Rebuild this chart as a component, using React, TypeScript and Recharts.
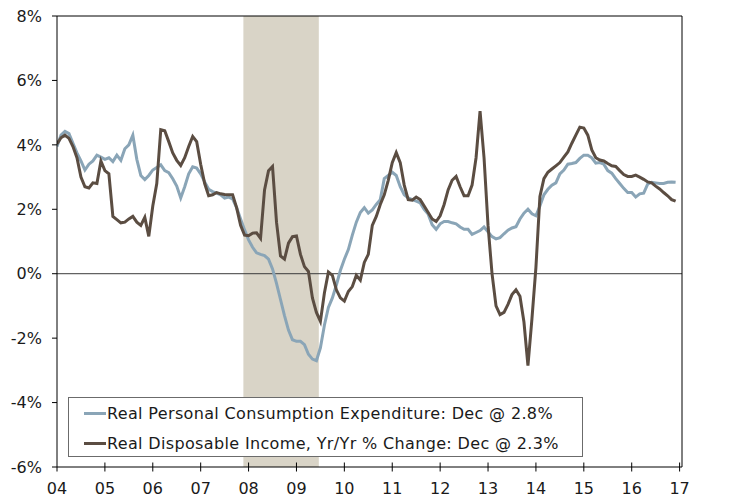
import { Legend, Line, LineChart, ReferenceArea, ReferenceLine, XAxis, YAxis } from "recharts";

// monthly yr/yr % change, Jan 2004 .. Dec 2016
const pce = [
  3.95, 4.3, 4.42, 4.35, 4.05, 3.75, 3.5, 3.22, 3.4, 3.5, 3.68, 3.62,
  3.55, 3.6, 3.48, 3.68, 3.52, 3.88, 4.0, 4.3, 3.55, 3.05, 2.92, 3.05,
  3.22, 3.3, 3.38, 3.2, 3.14, 2.95, 2.72, 2.35, 2.7, 3.1, 3.32, 3.28,
  3.1, 2.85, 2.62, 2.55, 2.5, 2.45, 2.35, 2.38, 2.32, 2.05, 1.7, 1.36,
  1.05, 0.82, 0.65, 0.6, 0.56, 0.45, 0.15, -0.3, -0.8, -1.3, -1.75, -2.05,
  -2.1, -2.1, -2.2, -2.5, -2.65, -2.7, -2.3, -1.6, -1.05, -0.75, -0.35, 0.1,
  0.45, 0.75, 1.2, 1.6, 1.9, 2.05, 1.88, 1.98, 2.15, 2.3, 2.95, 3.05,
  3.15, 3.05, 2.7, 2.45, 2.35, 2.3, 2.25, 2.2, 2.0, 1.85, 1.52, 1.38,
  1.55, 1.62, 1.62, 1.58, 1.55, 1.45, 1.38, 1.38, 1.22, 1.28, 1.34, 1.45,
  1.3, 1.15, 1.08, 1.12, 1.24, 1.35, 1.42, 1.46, 1.7, 1.88, 2.0, 1.86,
  1.8, 2.1, 2.45, 2.62, 2.75, 2.82, 3.1, 3.22, 3.4, 3.42, 3.45, 3.58,
  3.68, 3.68, 3.6, 3.43, 3.45, 3.4, 3.2, 3.12, 2.95, 2.8, 2.65, 2.52,
  2.52, 2.38, 2.48, 2.5, 2.78, 2.84, 2.82, 2.8, 2.8, 2.84, 2.85, 2.84,
];

const dpi = [
  4.03, 4.22, 4.3, 4.2, 3.95, 3.6, 3.0, 2.7, 2.66, 2.82, 2.8, 3.5,
  3.2, 3.1, 1.78, 1.68, 1.58, 1.6, 1.7, 1.78, 1.6, 1.5, 1.75, 1.16,
  2.1, 2.8, 4.47, 4.44, 4.1, 3.75, 3.52, 3.36, 3.6, 3.95, 4.26, 4.1,
  3.4, 2.8, 2.42, 2.45, 2.52, 2.48, 2.46, 2.45, 2.45, 2.05, 1.5, 1.2,
  1.18, 1.26, 1.27, 1.1, 2.6, 3.2, 3.33, 1.6, 0.55, 0.45, 0.95, 1.15,
  1.17, 0.6, 0.22, 0.07, -0.75, -1.2, -1.48, -0.6, 0.05, -0.05, -0.5, -0.75,
  -0.85, -0.55, -0.4, -0.05, -0.2, 0.35, 0.6, 1.5, 1.78, 2.15, 2.45, 2.9,
  3.45, 3.76, 3.45, 2.75, 2.3, 2.28, 2.38, 2.3, 2.1, 1.9, 1.7, 1.62,
  1.8, 2.15, 2.6, 2.9, 3.02, 2.7, 2.42, 2.42, 2.75, 3.6, 5.05, 3.6,
  1.5, 0.0, -1.0, -1.27, -1.2, -0.95, -0.65, -0.5, -0.7, -1.5, -2.85, -1.4,
  0.2, 2.4, 2.95, 3.15, 3.25, 3.35, 3.45, 3.62, 3.78, 4.05, 4.3, 4.55,
  4.52, 4.3, 3.84, 3.6, 3.53, 3.5, 3.42, 3.35, 3.33, 3.2, 3.08, 3.02,
  3.02, 3.06, 3.0, 2.93, 2.85, 2.82, 2.72, 2.63, 2.52, 2.42, 2.3, 2.25,
];

const yearLabels = ["04", "05", "06", "07", "08", "09", "10", "11", "12", "13", "14", "15", "16", "17"];
const yTicks = [-6, -4, -2, 0, 2, 4, 6, 8];
// recession, in months from Jan 2004
const recessionStart = 46.7;
const recessionEnd = 65.6;

const seriesNames = {
  pce: "Real Personal Consumption Expenditure: Dec @ 2.8%",
  dpi: "Real Disposable Income, Yr/Yr % Change: Dec @ 2.3%",
};

const data = pce.map((v, i) => ({ t: i, pce: v, dpi: dpi[i] }));
const xTicks = yearLabels.map((_, i) => i * 12);

const FONT = "'DejaVu Sans', Verdana, sans-serif";
const BLUE = "#8aa5b7";
const BROWN = "#5b4d42";
const TXT = "#1a1a1a";

const X_TICK_SIZE = 6;
const X_TICK_MARGIN = 4;
const R_TICK_SIZE = 5;
const R_TICK_MARGIN = 11;

function XTick({ x, y, payload }: any) {
  const axisY = y - X_TICK_SIZE - X_TICK_MARGIN;
  const first = payload.value === 0;
  return (
    <g>
      <line x1={x} x2={x} y1={first ? axisY : axisY - 4.5} y2={axisY + 4.5} stroke="#000" />
      <text x={x} y={axisY + 27} textAnchor="middle" fontSize={16} fontFamily={FONT} fill={TXT}>
        {yearLabels[payload.value / 12]}
      </text>
    </g>
  );
}

function RightTick({ x, y, payload }: any) {
  const axisX = x - R_TICK_SIZE - R_TICK_MARGIN;
  return (
    <g>
      <line x1={axisX - 5} x2={axisX + 5} y1={y} y2={y} stroke="#000" />
      <text x={x} y={y} dy="0.36em" textAnchor="start" fontSize={16} fontFamily={FONT} fill={TXT}>
        {`${payload.value}%`}
      </text>
    </g>
  );
}

function LegendBox() {
  const row = (color: string, label: string) => (
    <div style={{ display: "flex", alignItems: "center", height: 30 }}>
      <div style={{ width: 22, height: 3, background: color, marginRight: 1 }} />
      <span style={{ fontSize: 16, letterSpacing: 0.35, color: TXT, whiteSpace: "nowrap" }}>{label}</span>
    </div>
  );
  return (
    <div
      style={{
        width: 515,
        height: 60,
        boxSizing: "border-box",
        border: "1px solid #6b6b6b",
        background: "#fff",
        padding: "0 0 0 15px",
        fontFamily: FONT,
      }}
    >
      {row(BLUE, seriesNames.pce)}
      {row(BROWN, seriesNames.dpi)}
    </div>
  );
}

export default function App() {
  return (
    <div style={{ position: "absolute", left: 0, top: 0, width: 732, height: 498, background: "#fff" }}>
      <LineChart width={732} height={498} data={data} margin={{ top: 16, right: 0, bottom: 0, left: 0 }}>
        <XAxis
          dataKey="t"
          type="number"
          domain={[0, 156.6]}
          ticks={xTicks}
          allowDataOverflow
          height={31}
          tickSize={X_TICK_SIZE}
          tickMargin={X_TICK_MARGIN}
          tickLine={false}
          tick={<XTick />}
          axisLine={{ stroke: "#000" }}
          yAxisId="left"
        />
        <YAxis
          yAxisId="left"
          domain={[-6, 8]}
          ticks={yTicks}
          width={57}
          tickSize={5}
          tickMargin={10}
          tickFormatter={(v) => `${v}%`}
          tick={{ fontSize: 16, fontFamily: FONT, fill: TXT }}
          tickLine={{ stroke: "#000" }}
          axisLine={{ stroke: "#000" }}
        />
        <YAxis
          yAxisId="right"
          orientation="right"
          domain={[-6, 8]}
          ticks={yTicks}
          width={50}
          tickSize={R_TICK_SIZE}
          tickMargin={R_TICK_MARGIN}
          tickLine={false}
          tick={<RightTick />}
          axisLine={{ stroke: "#000" }}
        />
        <ReferenceArea
          yAxisId="left"
          x1={recessionStart}
          x2={recessionEnd}
          y1={-6}
          y2={8}
          fill="#d9d4c7"
          fillOpacity={1}
          stroke="none"
        />
        <ReferenceLine yAxisId="left" y={0} stroke="#3a3a3a" strokeWidth={1} />
        <ReferenceLine yAxisId="left" y={8} stroke="#000" strokeWidth={1} />
        <Line
          yAxisId="left"
          dataKey="pce"
          name={seriesNames.pce}
          stroke={BLUE}
          strokeWidth={3}
          dot={false}
          isAnimationActive={false}
        />
        <Line
          yAxisId="left"
          dataKey="dpi"
          name={seriesNames.dpi}
          stroke={BROWN}
          strokeWidth={3}
          dot={false}
          isAnimationActive={false}
        />
        <Legend
          layout="horizontal"
          verticalAlign="middle"
          align="center"
          content={<LegendBox />}
          wrapperStyle={{ left: 68, top: 397, width: 515, height: 60 }}
        />
      </LineChart>
    </div>
  );
}
